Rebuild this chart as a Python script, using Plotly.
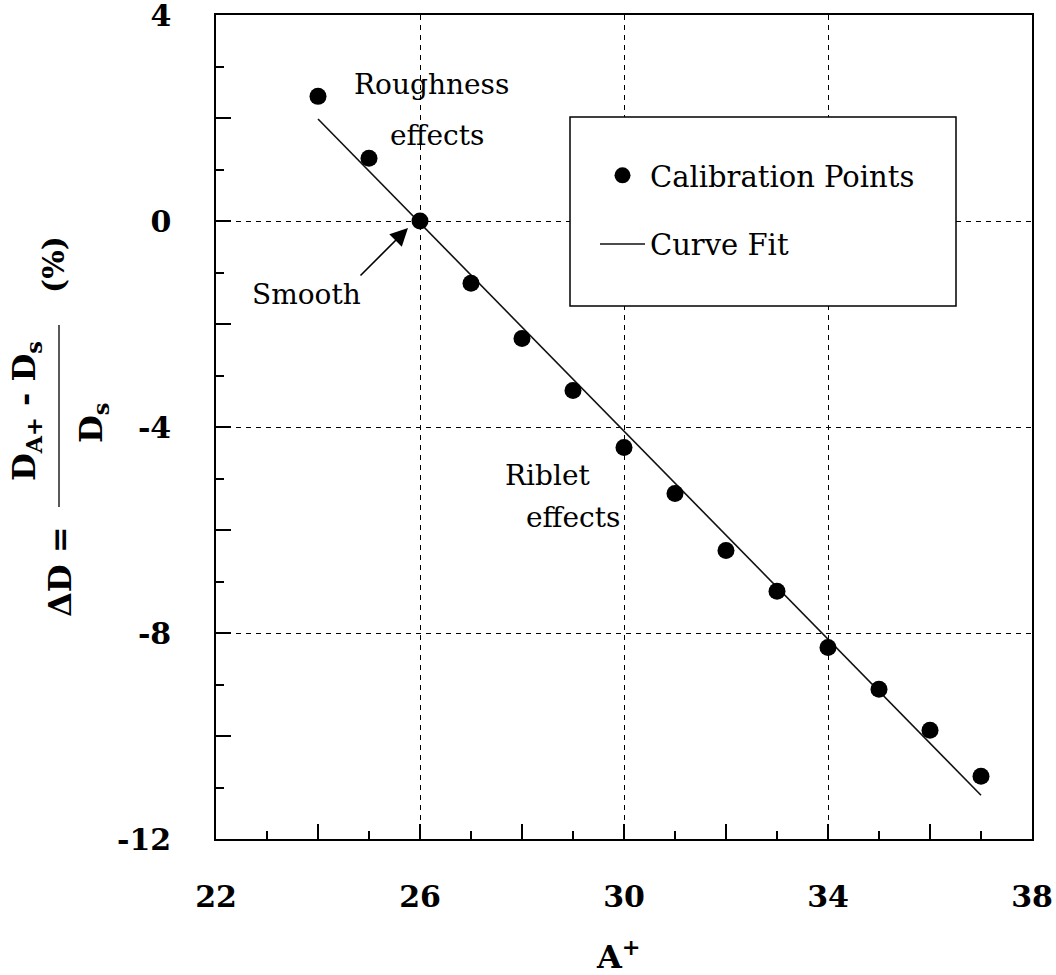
import plotly.graph_objects as go

# Calibration data: drag change vs. A+
a_plus = [24, 25, 26, 27, 28, 29, 30, 31, 32, 33, 34, 35, 36, 37]
delta_d = [2.42, 1.22, 0.0, -1.21, -2.28, -3.29, -4.40, -5.29, -6.40, -7.19,
           -8.28, -9.09, -9.89, -10.78]

# Straight-line curve fit end points
fit_x = [24, 37]
fit_y = [1.98, -11.15]

x_labels = [22, 26, 30, 34, 38]
y_labels = [-12, -8, -4, 0, 4]

W, H = 1056, 975
L, R, T, B = 216, 1032, 15, 839
FONT = "DejaVu Serif"


def paper(xp, yp):
    return (xp - L) / (R - L), (B - yp) / (B - T)


fig = go.Figure()
fig.add_trace(go.Scatter(
    x=fit_x, y=fit_y, mode="lines", name="Curve Fit",
    line=dict(color="#111111", width=1.6), legendrank=2, legendgroup="b"))
fig.add_trace(go.Scatter(
    x=a_plus, y=delta_d, mode="markers", name="Calibration Points",
    marker=dict(color="#000000", size=17), legendrank=1, legendgroup="a"))

tickfont = dict(family=FONT, size=30, color="#000", weight="bold")
common = dict(ticks="inside", ticklen=15, tickwidth=1.5, tickcolor="#000",
              zeroline=False, automargin=False)

fig.update_layout(
    template="none",
    width=W, height=H,
    margin=dict(l=L, r=W - R, t=T, b=H - B, autoexpand=False),
    plot_bgcolor="white", paper_bgcolor="white",
    font=dict(family=FONT, color="#000"),
    xaxis=dict(range=[22, 38], tickmode="array", tickvals=x_labels,
               ticktext=[str(v) for v in x_labels], tickfont=tickfont,
               showline=True, linewidth=1.5, linecolor="#000", mirror=True,
               showgrid=True, gridcolor="#000", gridwidth=1.2,
               griddash="5px,5px", ticklabelstandoff=30,
               ticklabeloverflow="allow",
               minor=dict(tickmode="array", tickvals=list(range(23, 38, 2)),
                          ticks="inside", ticklen=8, tickwidth=1.5,
                          tickcolor="#000", showgrid=False),
               **common),
    yaxis=dict(range=[-12, 4], tickmode="array", tickvals=y_labels,
               ticktext=[str(v) for v in y_labels], tickfont=tickfont,
               showline=True, linewidth=1.5, linecolor="#000", mirror=True,
               showgrid=True, gridcolor="#000", gridwidth=1.2,
               griddash="5px,5px", ticklabelstandoff=37,
               ticklabeloverflow="allow",
               minor=dict(tickmode="array", tickvals=list(range(-11, 4, 2)),
                          ticks="inside", ticklen=8, tickwidth=1.5,
                          tickcolor="#000", showgrid=False),
               **common),
    xaxis2=dict(range=[22, 38], overlaying="x", side="bottom",
                tickmode="array", tickvals=[24, 28, 32, 36],
                showticklabels=False, showgrid=False, showline=False,
                **common),
    yaxis2=dict(range=[-12, 4], overlaying="y", side="left",
                tickmode="array", tickvals=[-10, -6, -2, 2],
                showticklabels=False, showgrid=False, showline=False,
                **common),
    showlegend=True,
    legend=dict(x=paper(595, 0)[0], y=paper(0, 150)[1], xanchor="left",
                yanchor="top", bgcolor="rgba(0,0,0,0)", borderwidth=0,
                font=dict(family=FONT, size=29, color="#000"),
                traceorder="grouped", tracegroupgap=28, itemsizing="trace",
                itemwidth=45),
)

# empty trace on the overlay axes so their extra major ticks render
fig.add_trace(go.Scatter(x=[], y=[], xaxis="x2", yaxis="y2",
                         showlegend=False, hoverinfo="skip"))

# Legend frame
lx0, ly0 = paper(570, 306)
lx1, ly1 = paper(956, 117)
fig.add_shape(type="rect", xref="paper", yref="paper",
              x0=lx0, y0=ly0, x1=lx1, y1=ly1,
              fillcolor="white", line=dict(color="#000", width=1.5),
              layer="above")

annots = []


def text_at(xp, yp, text, size=28, bold=False, angle=0):
    px_, py_ = paper(xp, yp)
    annots.append(dict(x=px_, y=py_, xref="paper", yref="paper", text=text,
                       showarrow=False, xanchor="center", yanchor="middle",
                       textangle=angle,
                       font=dict(family=FONT, size=size, color="#000",
                                 weight="bold" if bold else "normal")))


text_at(431, 85, "Roughness")
text_at(437, 135, "effects")
text_at(547, 475, "Riblet")
text_at(573, 517, "effects")
text_at(306, 295, "Smooth")

# Arrow pointing at the smooth-surface point
annots.append(dict(x=paper(408, 228)[0], y=paper(408, 228)[1],
                   xref="paper", yref="paper", ax=359 - 408, ay=277 - 228,
                   axref="pixel", ayref="pixel", text="", showarrow=True,
                   arrowhead=2, arrowsize=2.2, arrowwidth=1.6,
                   arrowcolor="#000", standoff=0))

# Axis titles
text_at(618, 955, "A<sup>+</sup>", size=32, bold=True)
text_at(60, 572, "ΔD =", size=32, bold=True, angle=-90)
text_at(26, 411, "D<sub>A+</sub> - D<sub>s</sub>", size=32, bold=True,
        angle=-90)
text_at(93, 423, "D<sub>s</sub>", size=32, bold=True, angle=-90)
text_at(53, 265, "(%)", size=30, bold=True, angle=-90)

fx, fy0 = paper(59, 507)
_, fy1 = paper(59, 325)
fig.add_shape(type="line", xref="paper", yref="paper", x0=fx, x1=fx,
              y0=fy0, y1=fy1, line=dict(color="#222", width=1.5))

fig.update_layout(annotations=annots)
fig.write_html("out.html")
